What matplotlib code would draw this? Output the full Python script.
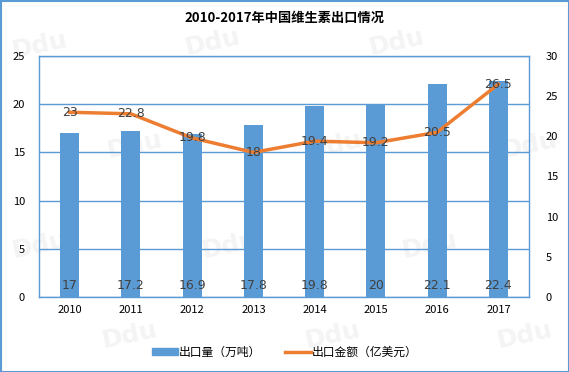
import matplotlib
matplotlib.use("Agg")
import matplotlib.pyplot as plt
from matplotlib.lines import Line2D
from matplotlib.patches import Patch, Rectangle

plt.rcParams['font.family'] = ['Noto Sans CJK SC', 'DejaVu Sans']

years = ['2010', '2011', '2012', '2013', '2014', '2015', '2016', '2017']
volume = [17, 17.2, 16.9, 17.8, 19.8, 20, 22.1, 22.4]
value = [23, 22.8, 19.8, 18, 19.4, 19.2, 20.5, 26.5]
title = '2010-2017年中国维生素出口情况'
bar_name = '出口量（万吨）'
line_name = '出口金额（亿美元）'

BLUE = '#5B9BD5'
ORANGE = '#ED7D31'
TXT = '#404040'

W, H = 569, 372
fig = plt.figure(figsize=(W / 100, H / 100), dpi=100)

# faint watermarks behind everything
wm = [(40, 45), (213, 42), (397, 42), (135, 145), (335, 145), (530, 145),
      (40, 245), (230, 245), (430, 245), (130, 335), (333, 335), (525, 335)]
for (px, py) in wm:
    fig.text(px / W, 1 - py / H, 'Ddu', fontsize=18, fontweight='bold',
             color='#f4f4f4', rotation=12, ha='center', va='center',
             family='DejaVu Sans', zorder=-5)

ax = fig.add_axes([39 / W, 1 - 297 / H, 490 / W, 241 / H])
ax.patch.set_alpha(0)
x = list(range(len(years)))
ax.bar(x, volume, width=0.31, color=BLUE, zorder=2)
ax.set_xlim(-0.5, len(years) - 0.5)
ax.set_ylim(0, 25)
ax.set_yticks([0, 5, 10, 15, 20, 25])
ax.set_xticks(x)
ax.set_xticklabels(years)
ax.grid(axis='y', color=BLUE, linewidth=1, zorder=0)
ax.set_axisbelow(True)
for s in ax.spines.values():
    s.set_color(BLUE)
    s.set_linewidth(1)
ax.tick_params(length=0, labelsize=8, colors='black', pad=6)
ax.tick_params(axis='y', pad=10)
for xi, v in zip(x, volume):
    ax.text(xi, 1.2, f'{v:g}', ha='center', va='center', fontsize=9,
            color=TXT, family='DejaVu Sans', zorder=4)

ax2 = ax.twinx()
ax2.plot(x, value, color=ORANGE, linewidth=2.5, zorder=3)
ax2.set_ylim(0, 30)
ax2.set_yticks([0, 5, 10, 15, 20, 25, 30])
for s in ax2.spines.values():
    s.set_visible(False)
ax2.tick_params(length=0, labelsize=8, colors='black', pad=12)
for xi, v in zip(x, value):
    ax2.text(xi, v, f'{v:g}', ha='center', va='center', fontsize=9,
             color=TXT, family='DejaVu Sans', zorder=4)

fig.text(0.5, 1 - 18 / H, title, ha='center', va='center', fontsize=9.5,
         fontweight='bold')

handles = [Patch(color=BLUE), Line2D([0], [0], color=ORANGE, linewidth=2.5)]
fig.legend(handles, [bar_name, line_name], loc='center',
           bbox_to_anchor=(0.5, 1 - 352 / H), ncol=2, frameon=False,
           fontsize=8.5, handlelength=2.2, handleheight=0.5, columnspacing=2,
           handletextpad=0.1)

fig.patches.append(Rectangle((0.5 / W, 0.5 / H), 1 - 1 / W, 1 - 1 / H,
                             transform=fig.transFigure, fill=False,
                             edgecolor=BLUE, linewidth=1.5))

fig.savefig('out.png', dpi=100)
